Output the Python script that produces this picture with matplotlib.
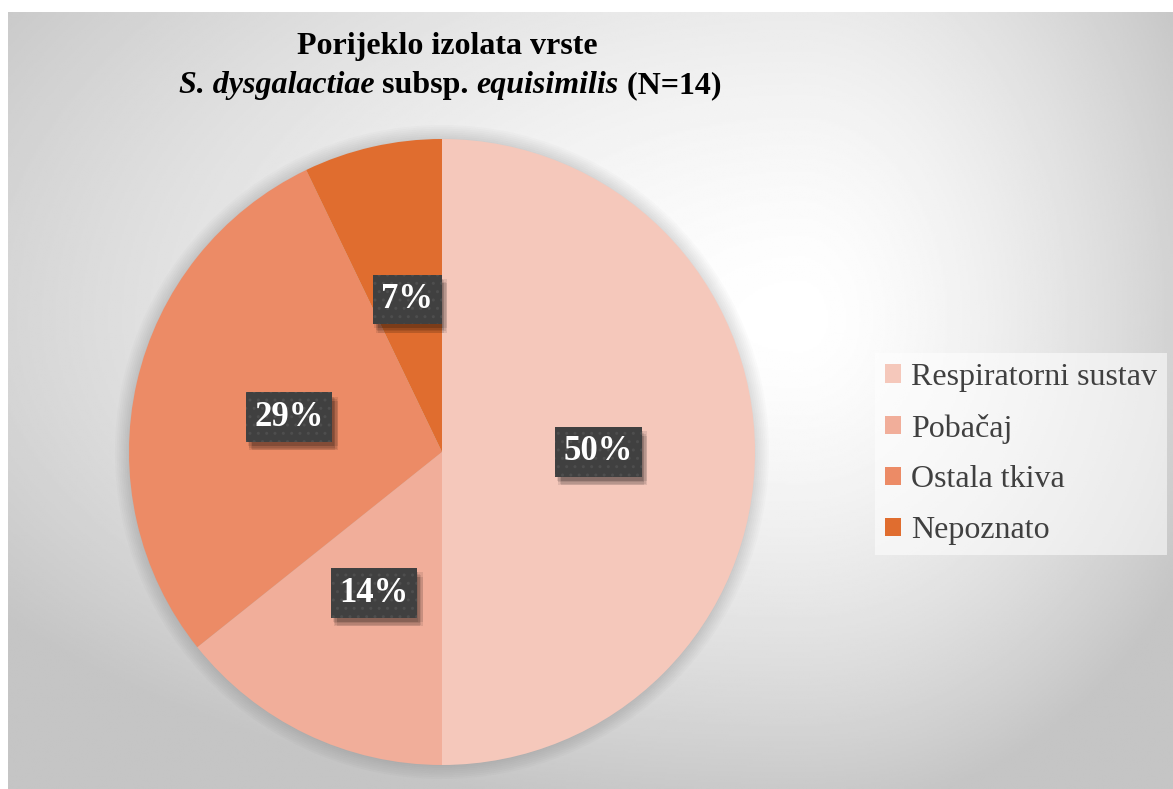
import numpy as np
import matplotlib.pyplot as plt
import matplotlib.patheffects as pe
from matplotlib.patches import Circle

categories = ["Respiratorni sustav", "Pobačaj", "Ostala tkiva", "Nepoznato"]
counts = [7, 2, 4, 1]
colors = ["#F5C8BB", "#F1AE9A", "#EC8B66", "#E06D2F"]

W, H = 1173, 789
SERIF = "Liberation Serif"

fig = plt.figure(figsize=(W / 100, H / 100), dpi=100)
fig.patch.set_facecolor("white")

# grey radial gradient behind the chart (bright spot right of the pie)
bg = fig.add_axes([8 / W, 0, 1 - 8 / W, 1 - 12 / H])
py, px = np.mgrid[12:789:400j, 8:1173:600j]
gx, gy = 800, 320
dx = (px - gx) / np.where(px < gx, 1000, 450)
dy = (py - gy) / np.where(py < gy, 620, 500)
d = np.clip(np.hypot(dx, dy), 0, 1)
shade = 1 - 0.23 * d ** 1.5
bg.imshow(shade, cmap="gray", vmin=0, vmax=1, aspect="auto", extent=[0, 1, 1, 0])
bg.set_xlim(0, 1)
bg.set_ylim(1, 0)
bg.axis("off")


def title_line(pieces, y_px, xc_px, size):
    texts = []
    for s, style in pieces:
        texts.append(fig.text(0, 1 - y_px / H, s, fontsize=size, family=SERIF,
                              weight="bold", style=style, va="baseline"))
    r = fig.canvas.get_renderer()
    widths = [t.get_window_extent(r).width for t in texts]
    x = xc_px - sum(widths) / 2
    for t, w in zip(texts, widths):
        t.set_x(x / W)
        x += w


title_line([("Porijeklo izolata vrste", "normal")], 54, 447, 23)
title_line([("S. dysgalactiae", "italic"), (" subsp. ", "normal"),
            ("equisimilis", "italic"), (" (N=14)", "normal")], 93, 450, 23)


class SoftShadow(pe.AbstractPathEffect):
    """plain (unhatched) offset copy of the patch"""

    def __init__(self, offset, alpha):
        super().__init__(offset)
        self.alpha = alpha

    def draw_path(self, renderer, gc, tpath, affine, rgbFace=None):
        gc0 = renderer.new_gc()
        gc0.copy_properties(gc)
        gc0.set_hatch(None)
        gc0.set_linewidth(0)
        gc0.set_alpha(self.alpha)
        renderer.draw_path(gc0, tpath, affine + self._offset_transform(renderer),
                           (0, 0, 0))
        gc0.restore()


# pie
cx, cy, rad = 442, 452, 313
ax = fig.add_axes([(cx - rad) / W, (H - cy - rad) / H, 2 * rad / W, 2 * rad / H])
for r in np.linspace(1.003, 1.045, 8):
    ax.add_patch(Circle((0, 0), r, fc="black", ec="none", alpha=0.016,
                        zorder=0, clip_on=False))
wedges, _, autotexts = ax.pie(
    counts, colors=colors, startangle=90, counterclock=False,
    autopct=lambda p: f"{p:.0f}%", pctdistance=0.5, radius=1,
    textprops=dict(family=SERIF, weight="bold", size=25, color="white"),
)
ax.set_xlim(-1, 1)
ax.set_ylim(-1, 1)

shadows = [SoftShadow(o, 0.09) for o in [(1, -3), (2, -4), (3, -5), (4, -6), (2, -6), (4, -3)]]
for t in autotexts:
    t.set_bbox(dict(boxstyle="square,pad=0.24", fc="#404040", ec="#4E4E4E",
                    lw=0, hatch=".."))
    t.get_bbox_patch().set_path_effects(shadows + [pe.Normal()])

leg = fig.legend(
    wedges, categories, loc="center left",
    bbox_to_anchor=(875 / W, 1 - 454 / H),
    prop=dict(family=SERIF, size=23), labelcolor="#404040",
    handlelength=0.5, handleheight=0.5, handletextpad=0.3,
    labelspacing=0.68, borderpad=0.32, borderaxespad=0,
    fancybox=False, framealpha=0.55,
)
leg.get_frame().set_facecolor("white")
leg.get_frame().set_edgecolor("none")

fig.savefig("out.png", dpi=100)
